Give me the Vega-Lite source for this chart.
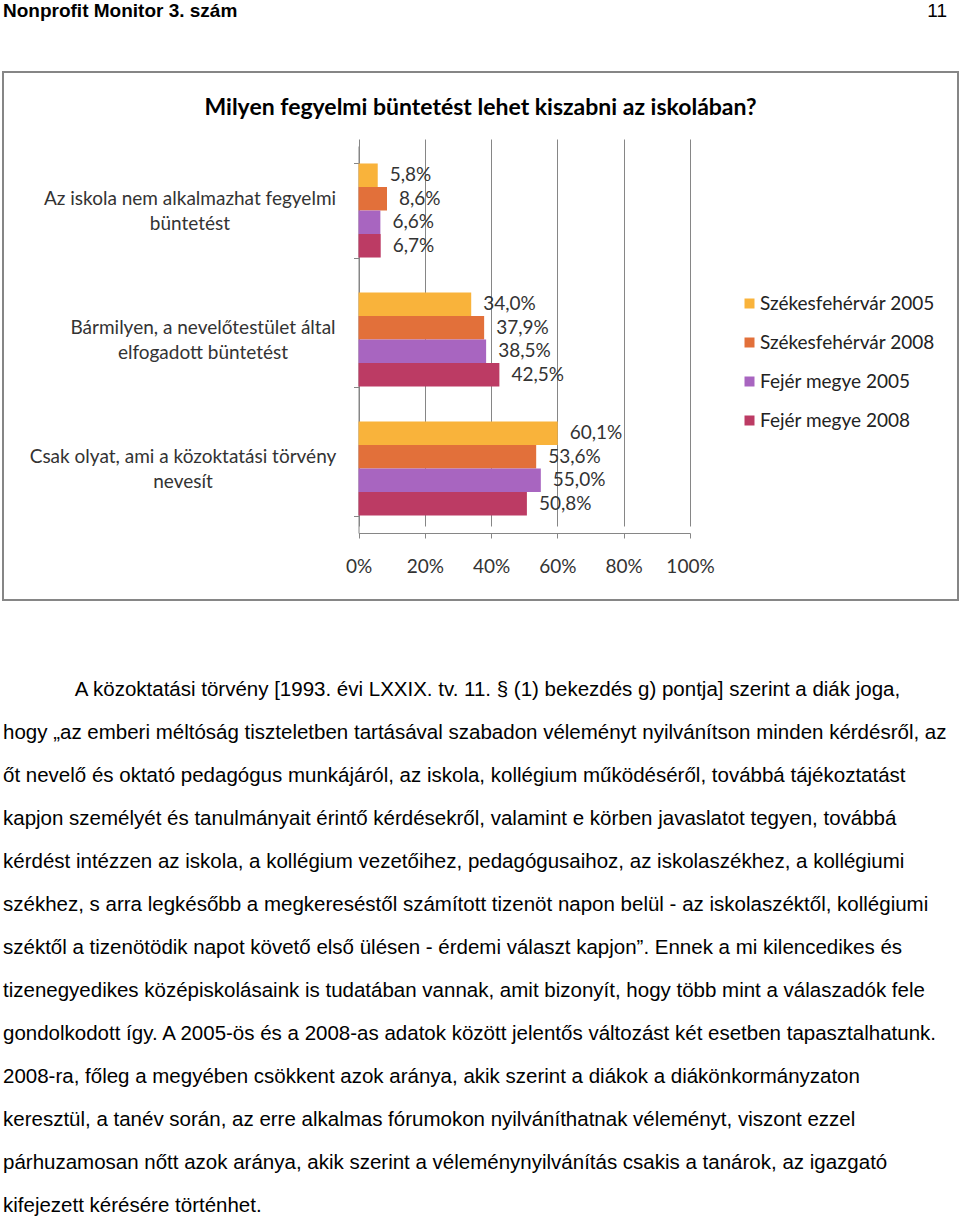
{
  "$schema": "https://vega.github.io/schema/vega-lite/v6.json",
  "padding": {"left": 2, "top": 0, "right": 0, "bottom": 0},
  "background": "white",
  "spacing": 50,
  "bounds": "flush",
  "config": {
    "locale": {"number": {"decimal": ",", "thousands": " ", "grouping": [3], "currency": ["", " Ft"]}},
    "view": {"stroke": null},
    "font": "Lato"
  },
  "vconcat": [
    {
      "width": 944,
      "height": 22,
      "layer": [
        {
          "data": {"values": [{"text": "Nonprofit Monitor 3. szám"}]},
          "mark": {"type": "text", "align": "left", "baseline": "middle", "font": "Liberation Sans", "fontSize": 19, "fontWeight": "bold", "color": "#000"},
          "encoding": {
            "text": {"field": "text"},
            "x": {"datum": 0, "type": "quantitative", "scale": {"domain": [0, 1]}, "axis": null}
          }
        },
        {
          "data": {"values": [{"text": "11"}]},
          "mark": {"type": "text", "align": "right", "baseline": "middle", "font": "Liberation Sans", "fontSize": 19, "color": "#000"},
          "encoding": {
            "text": {"field": "text"},
            "x": {"datum": 1, "type": "quantitative", "scale": {"domain": [0, 1]}, "axis": null}
          }
        }
      ]
    },
    {
      "width": 955,
      "height": 528,
      "view": {"stroke": "#868686", "strokeWidth": 2},
      "title": {"text": "Milyen fegyelmi büntetést lehet kiszabni az iskolában?", "anchor": "middle", "frame": "group", "offset": -48, "fontSize": 23, "font": "Lato", "fontWeight": "bold", "color": "#000"},
      "data": {
        "values": [
          {"category": "Az iskola nem alkalmazhat fegyelmi büntetést", "series": "Székesfehérvár 2005", "value": 0.058},
          {"category": "Az iskola nem alkalmazhat fegyelmi büntetést", "series": "Székesfehérvár 2008", "value": 0.086},
          {"category": "Az iskola nem alkalmazhat fegyelmi büntetést", "series": "Fejér megye 2005", "value": 0.066},
          {"category": "Az iskola nem alkalmazhat fegyelmi büntetést", "series": "Fejér megye 2008", "value": 0.067},
          {"category": "Bármilyen, a nevelőtestület által elfogadott büntetést", "series": "Székesfehérvár 2005", "value": 0.340},
          {"category": "Bármilyen, a nevelőtestület által elfogadott büntetést", "series": "Székesfehérvár 2008", "value": 0.379},
          {"category": "Bármilyen, a nevelőtestület által elfogadott büntetést", "series": "Fejér megye 2005", "value": 0.385},
          {"category": "Bármilyen, a nevelőtestület által elfogadott büntetést", "series": "Fejér megye 2008", "value": 0.425},
          {"category": "Csak olyat, ami a közoktatási törvény nevesít", "series": "Székesfehérvár 2005", "value": 0.601},
          {"category": "Csak olyat, ami a közoktatási törvény nevesít", "series": "Székesfehérvár 2008", "value": 0.536},
          {"category": "Csak olyat, ami a közoktatási törvény nevesít", "series": "Fejér megye 2005", "value": 0.550},
          {"category": "Csak olyat, ami a közoktatási törvény nevesít", "series": "Fejér megye 2008", "value": 0.508}
        ]
      },
      "encoding": {
        "y": {
          "field": "category",
          "type": "nominal",
          "sort": null,
          "scale": {"range": [74, 461], "paddingInner": 0.271, "paddingOuter": 0.1355},
          "axis": {
            "title": null,
            "offset": -355.5,
            "tickBand": "extent",
            "tickSize": 5,
            "tickColor": "#868686",
            "domainColor": "#868686",
            "grid": false,
            "labelAlign": "center",
            "labelBaseline": "middle",
            "labelLineHeight": 25,
            "labelOffset": -12.5,
            "labelFont": "Lato",
            "labelColor": "#333333",
            "labelLimit": 0,
            "labelExpr": "datum.value == 'Az iskola nem alkalmazhat fegyelmi büntetést' ? ['Az iskola nem alkalmazhat fegyelmi', 'büntetést'] : datum.value == 'Bármilyen, a nevelőtestület által elfogadott büntetést' ? ['Bármilyen, a nevelőtestület által', 'elfogadott büntetést'] : datum.value == 'Csak olyat, ami a közoktatási törvény nevesít' ? ['Csak olyat, ami a közoktatási törvény', 'nevesít'] : ''",
            "labelFontSize": {
              "condition": {"test": "datum.value != 'Az iskola nem alkalmazhat fegyelmi büntetést' && datum.value != 'Bármilyen, a nevelőtestület által elfogadott büntetést' && datum.value != 'Csak olyat, ami a közoktatási törvény nevesít'", "value": 0},
              "value": 19
            },
            "labelPadding": {
              "condition": [
                {"test": "datum.value == 'Bármilyen, a nevelőtestület által elfogadott büntetést'", "value": 151},
                {"test": "datum.value == 'Csak olyat, ami a közoktatási törvény nevesít'", "value": 171}
              ],
              "value": 164
            }
          }
        },
        "yOffset": {
          "field": "series",
          "type": "nominal",
          "sort": ["Székesfehérvár 2005", "Székesfehérvár 2008", "Fejér megye 2005", "Fejér megye 2008"],
          "scale": {"paddingInner": 0, "paddingOuter": 0}
        },
        "x": {
          "field": "value",
          "type": "quantitative",
          "scale": {"domain": [0, 1], "range": [355.5, 687], "nice": false},
          "axis": {
            "values": [0, 0.2, 0.4, 0.6, 0.8, 1],
            "format": ".0%",
            "offset": -67,
            "grid": true,
            "gridColor": "#868686",
            "gridWidth": 1,
            "domainColor": "#868686",
            "tickColor": "#868686",
            "tickSize": 5,
            "labelFont": "Lato",
            "labelFontSize": 19,
            "labelColor": "#333333",
            "labelPadding": 19,
            "labelFlush": false,
            "title": null
          }
        }
      },
      "layer": [
        {
          "mark": {"type": "bar"},
          "encoding": {
            "color": {
              "field": "series",
              "type": "nominal",
              "sort": ["Székesfehérvár 2005", "Székesfehérvár 2008", "Fejér megye 2005", "Fejér megye 2008"],
              "scale": {"domain": ["Székesfehérvár 2005", "Székesfehérvár 2008", "Fejér megye 2005", "Fejér megye 2008"], "range": ["#F9B33B", "#E2703A", "#A865C0", "#BC3B64"]},
              "legend": {
                "orient": "none",
                "legendX": 737,
                "legendY": 294,
                "title": null,
                "symbolType": "square",
                "symbolSize": 100,
                "symbolStrokeWidth": 0,
                "labelFont": "Lato",
                "labelFontSize": 19,
                "labelColor": "#222222",
                "labelLimit": 0,
                "rowPadding": 19,
                "labelOffset": 1
              }
            }
          }
        },
        {
          "mark": {"type": "text", "align": "left", "baseline": "middle", "dx": 12, "font": "Lato", "fontSize": 19, "color": "#333333"},
          "encoding": {
            "text": {"field": "value", "type": "quantitative", "format": ".1%"}
          }
        }
      ]
    },
    {
      "width": 944,
      "height": 571,
      "data": {
        "values": [
          {"line": 1, "text": "\u200b\u2003\u2003\u2003\u2002A közoktatási törvény [1993. évi LXXIX. tv. 11. § (1) bekezdés g) pontja] szerint a diák joga,"},
          {"line": 2, "text": "hogy „az emberi méltóság tiszteletben tartásával szabadon véleményt nyilvánítson minden kérdésről, az"},
          {"line": 3, "text": "őt nevelő és oktató pedagógus munkájáról, az iskola, kollégium működéséről, továbbá tájékoztatást"},
          {"line": 4, "text": "kapjon személyét és tanulmányait érintő kérdésekről, valamint e körben javaslatot tegyen, továbbá"},
          {"line": 5, "text": "kérdést intézzen az iskola, a kollégium vezetőihez, pedagógusaihoz, az iskolaszékhez, a kollégiumi"},
          {"line": 6, "text": "székhez, s arra legkésőbb a megkereséstől számított tizenöt napon belül - az iskolaszéktől, kollégiumi"},
          {"line": 7, "text": "széktől a tizenötödik napot követő első ülésen - érdemi választ kapjon”. Ennek a mi kilencedikes és"},
          {"line": 8, "text": "tizenegyedikes középiskolásaink is tudatában vannak, amit bizonyít, hogy több mint a válaszadók fele"},
          {"line": 9, "text": "gondolkodott így. A 2005-ös és a 2008-as adatok között jelentős változást két esetben tapasztalhatunk."},
          {"line": 10, "text": "2008-ra, főleg a megyében csökkent azok aránya, akik szerint a diákok a diákönkormányzaton"},
          {"line": 11, "text": "keresztül, a tanév során, az erre alkalmas fórumokon nyilváníthatnak véleményt, viszont ezzel"},
          {"line": 12, "text": "párhuzamosan nőtt azok aránya, akik szerint a véleménynyilvánítás csakis a tanárok, az igazgató"},
          {"line": 13, "text": "kifejezett kérésére történhet."}
        ]
      },
      "mark": {"type": "text", "align": "left", "baseline": "middle", "font": "Liberation Sans", "fontSize": 20.5, "color": "#000"},
      "encoding": {
        "text": {"field": "text"},
        "x": {"datum": 0, "type": "quantitative", "scale": {"domain": [0, 1]}, "axis": null},
        "y": {"field": "line", "type": "quantitative", "scale": {"domain": [0.0698, 13.349], "reverse": true, "nice": false, "zero": false}, "axis": null}
      }
    }
  ]
}
